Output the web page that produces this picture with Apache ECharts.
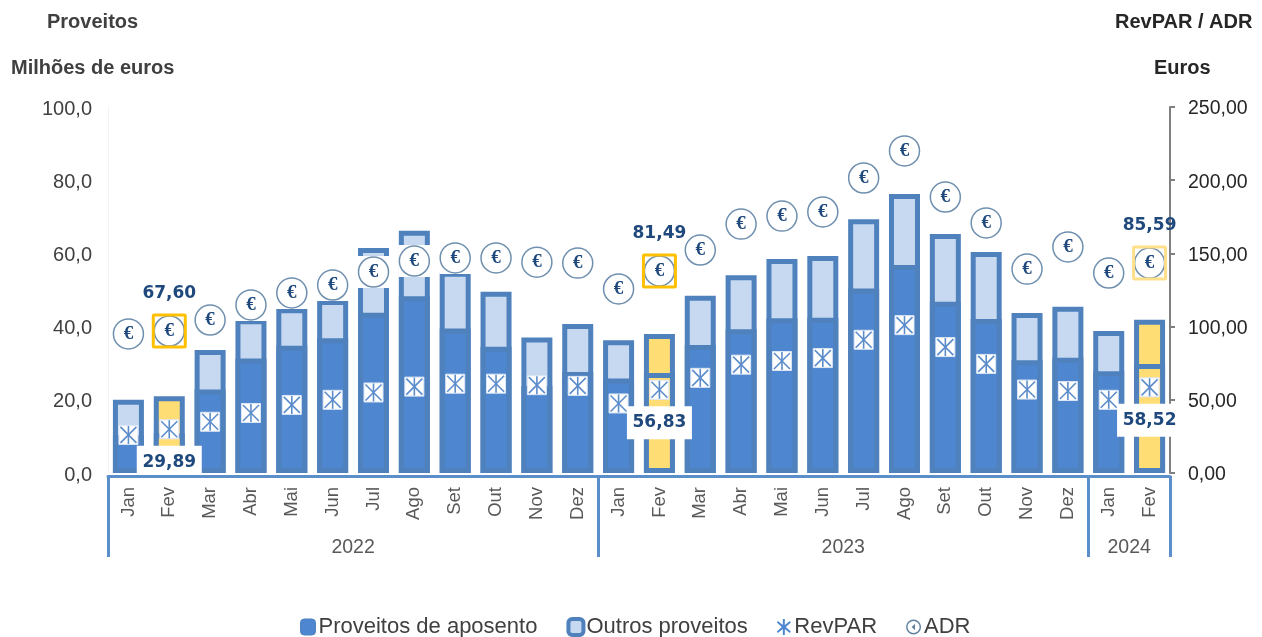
<!DOCTYPE html>
<html>
<head>
<meta charset="utf-8">
<script src="https://cdn.jsdelivr.net/npm/echarts@6/dist/echarts.min.js"></script>
<style>
  html, body { margin: 0; padding: 0; background: #fff; }
  #chart { width: 1262px; height: 637px; }
</style>
</head>
<body>
<div id="chart"></div>
<script>
const meses = ['Jan','Fev','Mar','Abr','Mai','Jun','Jul','Ago','Set','Out','Nov','Dez',
               'Jan','Fev','Mar','Abr','Mai','Jun','Jul','Ago','Set','Out','Nov','Dez',
               'Jan','Fev'];
const anos = ['2022','2023','2024'];
const anoCentros = [6, 18, 25];
const anoLimites = [0, 12, 24, 26];

const aposento = [10.3,10.8,22.8,31.3,34.8,36.8,43.8,48.3,39.5,34.5,23.8,27.6,
                  25.8,27.3,35,39.3,42.3,42.4,50.4,56.8,46.8,42.1,30.8,31.5,
                  27.8,29.8];
const outros = [9.7,10.2,10.8,10.7,10.2,10.5,17.7,17.9,15.5,15,13.2,13.1,
                10.5,10.7,13.4,14.7,16.2,16.9,18.9,19.4,18.5,18.3,12.9,13.9,
                11,12.1];
const revpar = [26,29.89,35,41,46.5,50,55,59,61,61,60,59.5,
                47.5,56.83,65,74,76.5,78.5,91,101,86,74.5,57,56,
                50,58.52];
const adr = [95,97,104.5,114.8,123,128.4,137.3,144.8,146.9,146.9,144,143.4,
             125.7,138,152.3,170,175.5,178.3,201.5,220,188.5,170.8,139.3,154.4,
             136.6,143.4];

// meses em destaque (fevereiro) e os rótulos que aparecem neles
const destaque = [1, 13, 25];
const rotulosRevpar = ['29,89', '56,83', '58,52'];
const rotulosAdr = ['67,60', '81,49', '85,59'];
const coresCaixa = ['#FFC000', '#FFC000', '#FFE08A'];

const AZUL_BORDA = '#4F81BD';
const AZUL = '#4E86D0';
const AZUL_CLARO = '#C6D9F1';
const AMARELO = '#FFDD75';
const TINTA = '#1F497D';
const FONTE = '"Liberation Sans", Arial, sans-serif';

function barras(valores, cor){
  return valores.map((v, i) => {
    if(destaque.includes(i)) return { value: v, itemStyle: { color: AMARELO } };
    return { value: v, itemStyle: { color: cor } };
  });
}

function desenhaRevpar(params, api){
  const i = api.value(0);
  const p = api.coord([i, api.value(1)]);
  const x = p[0], y = p[1];
  const traco = { stroke: '#5B8CCB', lineWidth: 1.6 };
  const filhos = [
    { type: 'rect', shape: { x: x-9.5, y: y-9.5, width: 19, height: 19 }, style: { fill: '#fff', stroke: '#DCE6F4', lineWidth: 1 } },
    { type: 'line', shape: { x1: x, y1: y-9, x2: x, y2: y+9 }, style: traco },
    { type: 'line', shape: { x1: x-8, y1: y-8, x2: x+8, y2: y+8 }, style: traco },
    { type: 'line', shape: { x1: x+8, y1: y-8, x2: x-8, y2: y+8 }, style: traco }
  ];
  const d = destaque.indexOf(i);
  if(d >= 0){
    const ty = y + 33;
    // a primeira caixa para na linha do eixo
    const alt = d === 0 ? 29 : 33;
    filhos.push({ type: 'rect', shape: { x: x-32.5, y: ty-16.5, width: 65, height: alt }, style: { fill: '#fff' } });
    filhos.push({ type: 'text', style: { x: x, y: ty, text: rotulosRevpar[d], fill: TINTA, align: 'center', verticalAlign: 'middle',
      font: 'bold 17px "DejaVu Sans", sans-serif' } });
  }
  return { type: 'group', children: filhos };
}

function desenhaAdr(params, api){
  const i = api.value(0);
  const p = api.coord([i, api.value(1)]);
  const x = p[0], y = p[1];
  const filhos = [
    { type: 'rect', shape: { x: x-16, y: y-16, width: 32, height: 32 }, style: { fill: '#fff' } },
    { type: 'circle', shape: { cx: x, cy: y, r: 15 }, style: { fill: '#fff', stroke: '#6F8FAF', lineWidth: 1.5 } },
    { type: 'text', style: { x: x, y: y, text: '€', fill: TINTA, align: 'center', verticalAlign: 'middle',
      font: 'bold 19px "Liberation Serif", serif' } }
  ];
  const d = destaque.indexOf(i);
  if(d >= 0){
    filhos.push({ type: 'rect', shape: { x: x-16, y: y-16, width: 32, height: 32, r: 1 }, style: { fill: 'none', stroke: coresCaixa[d], lineWidth: 3 } });
    filhos.push({ type: 'text', style: { x: x, y: y-37, text: rotulosAdr[d], fill: TINTA, align: 'center', verticalAlign: 'middle',
      font: 'bold 17px "DejaVu Sans", sans-serif' } });
  }
  return { type: 'group', children: filhos };
}

const chart = echarts.init(document.getElementById('chart'), null, { renderer: 'canvas' });

chart.setOption({
  animation: false,
  textStyle: { fontFamily: FONTE },
  title: [
    { text: 'Proveitos', left: 42, top: 7, textStyle: { fontSize: 20, fontWeight: 'bold', color: '#404040' } },
    { text: 'Milhões de euros', left: 6, top: 53, textStyle: { fontSize: 20, fontWeight: 'bold', color: '#404040' } },
    { text: 'RevPAR / ADR', left: 1110, top: 7, textStyle: { fontSize: 20, fontWeight: 'bold', color: '#262626' } },
    { text: 'Euros', left: 1149, top: 53, textStyle: { fontSize: 20, fontWeight: 'bold', color: '#262626' } }
  ],
  legend: {
    left: 295,
    top: 611,
    itemWidth: 15,
    itemHeight: 16,
    itemGap: 29,
    textStyle: { fontSize: 22, color: '#404040', padding: [0, 0, 0, -2] },
    data: [
      { name: 'Proveitos de aposento', icon: 'roundRect', itemStyle: { color: AZUL, borderColor: AZUL_BORDA, borderWidth: 1 } },
      { name: 'Outros proveitos', icon: 'roundRect', itemStyle: { color: AZUL_CLARO, borderColor: AZUL_BORDA, borderWidth: 4 } },
      { name: 'RevPAR', icon: 'path://M7 0H9V6L14 2L15 3.5L10 8L15 12.5L14 14L9 10V16H7V10L2 14L1 12.5L6 8L1 3.5L2 2L7 6Z', itemStyle: { color: '#4E86D0' } },
      { name: 'ADR', icon: 'path://M8 0A8 8 0 1 1 8 16A8 8 0 1 1 8 0ZM8 1.5A6.5 6.5 0 1 0 8 14.5A6.5 6.5 0 1 0 8 1.5ZM9.5 4.5L6 8L9.5 11.5Z', itemStyle: { color: '#5F7F9F' } }
    ]
  },
  grid: { left: 108, right: 92, top: 107, height: 366, containLabel: false },
  xAxis: [
    {
      type: 'category',
      data: meses,
      axisLine: { show: false },
      axisTick: { show: false },
      axisLabel: { rotate: 90, interval: 0, margin: 14, fontSize: 18.5, color: '#595959' }
    },
    {
      type: 'value',
      position: 'bottom',
      offset: 3,
      min: 0,
      max: 26,
      splitLine: { show: false },
      axisLine: { show: true, onZero: false, lineStyle: { color: '#5B8FC9', width: 3 } },
      axisTick: { show: true, customValues: anoLimites, length: 81, lineStyle: { color: '#5B8FC9', width: 3 } },
      axisLabel: {
        show: true,
        customValues: anoCentros,
        margin: 62,
        fontSize: 19.5,
        color: '#595959',
        formatter: v => anos[anoCentros.indexOf(v)]
      }
    }
  ],
  yAxis: [
    {
      type: 'value', min: 0, max: 100, interval: 20,
      splitLine: { show: false },
      axisLine: { show: true, lineStyle: { color: '#F2F2F2' } },
      axisTick: { show: false },
      axisLabel: { margin: 16, fontSize: 20, color: '#404040', verticalAlign: 'bottom', padding: [0, 0, -12, 0], formatter: v => v.toFixed(1).replace('.', ',') }
    },
    {
      type: 'value', min: 0, max: 250, interval: 50,
      splitLine: { show: false },
      axisLine: { show: true, lineStyle: { color: '#7F7F7F', width: 2 } },
      axisTick: { show: true, length: 5, lineStyle: { color: '#7F7F7F', width: 2 } },
      axisLabel: { margin: 18, fontSize: 19.5, color: '#262626', verticalAlign: 'bottom', padding: [0, 0, -12, 0], formatter: v => v.toFixed(2).replace('.', ',') }
    }
  ],
  series: [
    {
      // barra inteira atrás, a de aposento fica por cima
      name: 'Outros proveitos', type: 'bar', barWidth: 31, barGap: '-100%', z: 2,
      itemStyle: { color: AZUL_CLARO, borderColor: AZUL_BORDA, borderWidth: 5 },
      data: barras(outros.map((v, i) => v + aposento[i]), AZUL_CLARO)
    },
    {
      name: 'Proveitos de aposento', type: 'bar', barWidth: 31, barGap: '-100%', z: 2,
      itemStyle: { color: AZUL, borderColor: AZUL_BORDA, borderWidth: 5 },
      data: barras(aposento, AZUL)
    },
    {
      name: 'ADR', type: 'custom', yAxisIndex: 1, z: 3, clip: false,
      renderItem: desenhaAdr,
      itemStyle: { color: '#5F7F9F' },
      data: adr.map((v, i) => [i, v])
    },
    {
      name: 'RevPAR', type: 'custom', yAxisIndex: 1, z: 4, clip: false,
      renderItem: desenhaRevpar,
      itemStyle: { color: '#4E86D0' },
      data: revpar.map((v, i) => [i, v])
    }
  ]
});
</script>
</body>
</html>
